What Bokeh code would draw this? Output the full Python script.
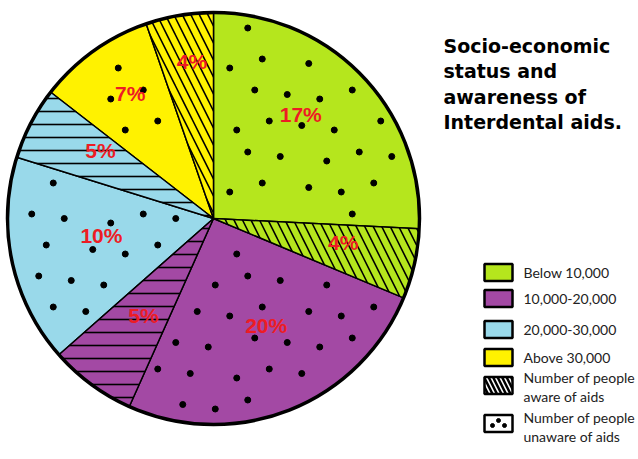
from bokeh.plotting import figure
from bokeh.models import Range1d, ColumnDataSource
from bokeh.embed import file_html
from bokeh.resources import INLINE
from bokeh.core.properties import value
import numpy as np

W, H = 638, 459

# ---------------- data ----------------
groups = ["Below 10,000", "10,000-20,000", "20,000-30,000", "Above 30,000"]
group_colors = ["#b5e61d", "#a349a4", "#99d9ea", "#fff200"]
# slice sizes as drawn (share of the full circle, %)
unaware_share = [25.8, 25.4, 16.3, 9.2]
aware_share = [5.5, 6.8, 5.7, 5.3]
# printed labels
unaware_label = ["17%", "20%", "10%", "7%"]
aware_label = ["4%", "5%", "5%", "4%"]
title_lines = ["Socio-economic", "status and", "awareness of", "Interdental aids."]
pattern_labels = [["Number of people", "aware of aids"], ["Number of people", "unaware of aids"]]

# ---------------- layout / style ----------------
aware_hatch = ["\\", "-", "-", "\\"]
aware_hatch_scale = [17, 13, 13, 17]
# label placement inside each slice: (fraction along slice, fraction of radius)
label_f = [0.43, 0.38, 0.45, 0.48, 0.56, 0.67, 0.56, 0.59]
label_rf = [0.66, 0.64, 0.58, 0.58, 0.55, 0.64, 0.73, 0.77]
R = 206
cx, cy = 213, H - 218

def Y(y):
    return H - y

shares, fills, labels, kinds = [], [], [], []
for i in range(4):
    shares += [unaware_share[i], aware_share[i]]
    fills += [group_colors[i]] * 2
    labels += [unaware_label[i], aware_label[i]]
    kinds += ["u", "a"]

cum = np.cumsum([0.0] + shares)
tot = cum[-1]
start = np.pi / 2 - 2 * np.pi * cum[:-1] / tot
end = np.pi / 2 - 2 * np.pi * cum[1:] / tot
span = start - end

p = figure(width=W, height=H, x_range=Range1d(0, W), y_range=Range1d(0, H),
           output_backend="svg", toolbar_location=None, min_border=0)
p.axis.visible = False
p.grid.visible = False
p.outline_line_color = None
p.background_fill_color = "white"

ui = [k for k in range(8) if kinds[k] == "u"]
ai = [k for k in range(8) if kinds[k] == "a"]

src_u = ColumnDataSource(dict(x=[cx]*4, y=[cy]*4, s=start[ui], e=end[ui],
                              c=[fills[k] for k in ui]))
p.wedge(x="x", y="y", radius=R, start_angle="s", end_angle="e", direction="clock",
        source=src_u, fill_color="c", line_color="black", line_width=1.5)

for n, k in enumerate(ai):
    p.wedge(x=[cx], y=[cy], radius=R, start_angle=[start[k]], end_angle=[end[k]],
            direction="clock", fill_color=fills[k], line_color="black", line_width=1.5,
            hatch_pattern=aware_hatch[n], hatch_color="black",
            hatch_scale=aware_hatch_scale[n], hatch_weight=1.6)

# scattered dot texture inside the "unaware" slices (deterministic staggered lattice)
dx_, dy_ = [], []
for j in range(-8, 9):
    for i in range(-8, 9):
        px = cx + 36 * i + (j % 2) * 18 + (((i * 3 + j * 5) % 4) - 1.5) * 3.5
        py = cy + 31 * j + (((i * 5 + j * 3) % 3) - 1) * 4.5
        r = np.hypot(px - cx, py - cy)
        if r < 28 or r > R - 12:
            continue
        a = np.arctan2(py - cy, px - cx)
        for k in ui:
            d = (start[k] - a) % (2 * np.pi)
            if d < span[k] and d * r > 10 and (span[k] - d) * r > 10:
                dx_.append(px)
                dy_.append(py)
p.scatter(x=dx_, y=dy_, size=6, marker="circle", fill_color="black", line_color="black")

p.circle(x=[cx], y=[cy], radius=R, fill_color=None, line_color="black", line_width=3.5)

la = start - np.array(label_f) * span
lx = cx + np.array(label_rf) * R * np.cos(la)
ly = cy + np.array(label_rf) * R * np.sin(la)
p.text(x=lx, y=ly, text=labels, text_align="center", text_baseline="middle",
       text_font=value("Liberation Sans"), text_font_style="bold",
       text_font_size="21px", text_color="#ed1c24")

# title
p.text(x=[443]*4, y=[Y(45 + 25.5 * i) for i in range(4)], text=title_lines,
       text_align="left", text_baseline="alphabetic",
       text_font=value("DejaVu Sans"), text_font_style="bold",
       text_font_size="19px", text_color="black")

# legend
sw_y = [272, 298, 329, 357]
p.rect(x=[498]*4, y=[Y(v) for v in sw_y], width=28, height=17,
       fill_color=group_colors, line_color="black", line_width=2.5)
p.text(x=[523]*4, y=[Y(v) for v in sw_y], text=groups, text_align="left",
       text_baseline="middle", text_font=value("Lato"), text_font_size="14px",
       text_color="#222222")

p.rect(x=[498], y=[Y(385)], width=28, height=17, fill_color="white",
       line_color="black", line_width=2.5, hatch_pattern="\\", hatch_color="black",
       hatch_scale=9, hatch_weight=2.5)
p.rect(x=[498], y=[Y(423)], width=28, height=17, fill_color="white",
       line_color="black", line_width=2.5)
p.scatter(x=[492, 498, 504], y=[Y(425), Y(420), Y(425)], size=4, marker="circle",
          fill_color="black", line_color="black")
p.text(x=[523]*4, y=[Y(377), Y(395.5), Y(417), Y(435.5)],
       text=pattern_labels[0] + pattern_labels[1], text_align="left",
       text_baseline="middle", text_font=value("Lato"), text_font_size="14px",
       text_color="#222222")

open("out.html", "w").write(file_html(p, INLINE))
